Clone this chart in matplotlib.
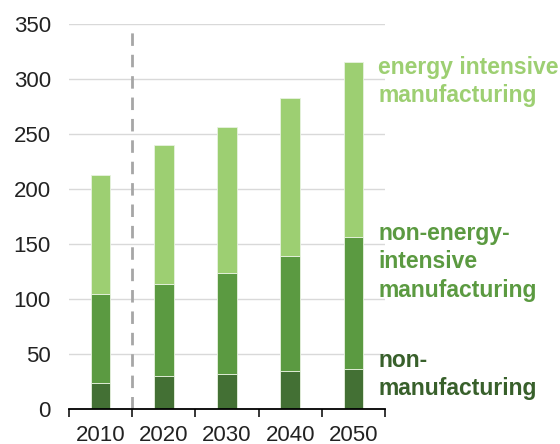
import matplotlib
matplotlib.use("Agg")
import matplotlib.pyplot as plt
import numpy as np

plt.rcParams['font.family'] = ['Liberation Sans', 'DejaVu Sans']

years = ["2010", "2020", "2030", "2040", "2050"]
non_manufacturing = [24, 30.5, 32, 34.5, 36.5]
non_energy_intensive = [81, 83.5, 92, 105, 120]
energy_intensive = [108, 126, 133, 143.5, 159.5]

c_light = "#9dcf72"
c_mid = "#5b9a41"
c_dark = "#437034"

fig = plt.figure(figsize=(5.6, 4.44), dpi=100)
ax = fig.add_axes([69 / 560, 1 - 409.3 / 444, (385 - 69) / 560, 385 / 444])

x = np.arange(len(years))
w = 0.31
b1 = np.array(non_manufacturing)
b2 = b1 + np.array(non_energy_intensive)
ax.bar(x, non_manufacturing, w, color=c_dark, edgecolor="#e8f2e0", linewidth=0.6, zorder=3)
ax.bar(x, non_energy_intensive, w, bottom=b1, color=c_mid, edgecolor="#e8f2e0", linewidth=0.6, zorder=3)
ax.bar(x, energy_intensive, w, bottom=b2, color=c_light, edgecolor="#e8f2e0", linewidth=0.6, zorder=3)

# dashed divider between history and projection
ax.plot([0.5, 0.5], [0, 350], color="#a6a6a6", linewidth=2, dashes=(4.5, 3.2), zorder=2)

ax.set_xlim(-0.5, len(years) - 0.5)
ax.set_ylim(0, 350)
ax.set_yticks(range(0, 351, 50))
ax.yaxis.grid(True, color="#d9d9d9", linewidth=1, zorder=0)
ax.set_axisbelow(True)

for s in ["top", "right", "left"]:
    ax.spines[s].set_visible(False)
ax.spines["bottom"].set_color("black")
ax.spines["bottom"].set_linewidth(1.3)
ax.spines["bottom"].set_zorder(4)

ax.set_xticks(x)
ax.set_xticklabels(years)
ax.set_xticks(np.arange(-0.5, len(years), 1), minor=True)
ax.tick_params(axis="x", which="major", length=0, pad=11, labelsize=16, labelcolor="#222222")
ax.tick_params(axis="x", which="minor", length=6, width=1.1, color="black", direction="out")
ax.tick_params(axis="y", length=0, pad=13, labelsize=16, labelcolor="#222222")

lab = dict(fontsize=16.5, fontweight="bold", ha="left", va="top", linespacing=1.3)
fig.text(378 / 560, 1 - 56 / 444, "energy intensive\nmanufacturing", color=c_light, **lab)
fig.text(378 / 560, 1 - 222 / 444, "non-energy-\nintensive\nmanufacturing", color=c_mid, **lab)
fig.text(378 / 560, 1 - 349 / 444, "non-\nmanufacturing", color="#38602b", **lab)

fig.savefig("out.png", dpi=100)
